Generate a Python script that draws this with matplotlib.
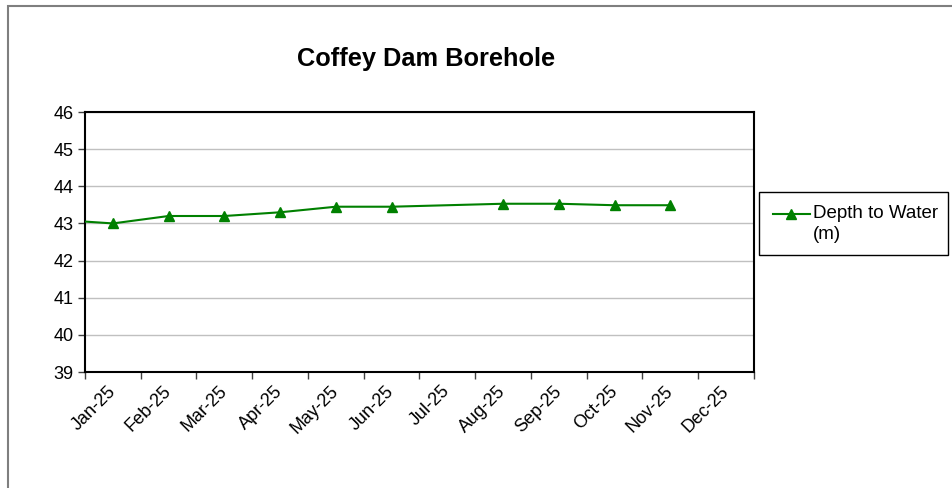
import numpy as np
import matplotlib
matplotlib.use('Agg')
import matplotlib.pyplot as plt
from matplotlib.patches import Rectangle
from matplotlib.lines import Line2D

plt.rcParams['font.family'] = ['Liberation Sans', 'DejaVu Sans']

# monthly readings, depth to water in metres (None = no reading)
months = ['Jan-25', 'Feb-25', 'Mar-25', 'Apr-25', 'May-25', 'Jun-25',
          'Jul-25', 'Aug-25', 'Sep-25', 'Oct-25', 'Nov-25', 'Dec-25']
depth = [43.0, 43.2, 43.2, 43.3, 43.45, 43.45,
         None, 43.53, 43.53, 43.49, 43.49, None]
prev_depth = 43.1  # Dec-24 reading, runs in from off the left edge
y_ticks = [39, 40, 41, 42, 43, 44, 45, 46]
series_name = 'Depth to Water\n(m)'

green = '#008000'
W, H = 953, 488

fig = plt.figure(figsize=(W / 100, H / 100), dpi=100)
# chart area outline (only top and left edge fall inside the image)
fig.patches.append(Rectangle((8 / W, -0.1), 1.2, 1.1 - 6 / H, transform=fig.transFigure,
                             fill=False, edgecolor='#7f7f7f', linewidth=1.5))
ax = fig.add_axes([85 / W, 1 - 372 / H, (754 - 85) / W, (372 - 112) / H])

centres = np.arange(len(months)) + 0.5
xs = [-0.5] + [c for c, d in zip(centres, depth) if d is not None]
ys = [prev_depth] + [d for d in depth if d is not None]
ax.plot(xs, ys, color=green, linewidth=1.5, zorder=3)
ax.plot(xs[1:], ys[1:], color=green, linestyle='none', marker='^', markersize=6.5, zorder=4)

ax.set_xlim(0, len(months))
ax.set_ylim(39, 46)
ax.set_yticks(y_ticks)
ax.set_xticks(np.arange(len(months) + 1))
ax.set_xticklabels([])
ax.set_xticks(centres, minor=True)
ax.set_xticklabels(months, minor=True, rotation=45, ha='right', va='center',
                   rotation_mode='anchor', fontsize=13)
ax.tick_params(axis='x', which='minor', length=0, pad=12)
ax.tick_params(axis='both', which='major', direction='out', length=5, width=1,
               labelsize=13, color='#404040')
ax.tick_params(axis='y', pad=3)

ax.grid(axis='y', color='#c0c0c0', linewidth=1)
ax.set_axisbelow(True)
for s in ax.spines.values():
    s.set_linewidth(1.5)
    s.set_color('black')

fig.text(426 / W, 1 - 59 / H, 'Coffey Dam Borehole', ha='center', va='center',
         fontsize=18.3, fontweight='bold')

# legend box drawn by hand so the marker sits on the first text line
fig.patches.append(Rectangle((759 / W, 1 - 255 / H), (948 - 759) / W, (255 - 192) / H,
                             transform=fig.transFigure, fill=False,
                             edgecolor='black', linewidth=1))
fig.lines.append(Line2D([773 / W, 810 / W], [1 - 214 / H] * 2, transform=fig.transFigure,
                        color=green, linewidth=1.5))
fig.lines.append(Line2D([791.5 / W], [1 - 214 / H], transform=fig.transFigure,
                        color=green, marker='^', markersize=6.5))
fig.text(813 / W, 1 - 205 / H, series_name, ha='left', va='top', fontsize=13.5,
         linespacing=1.32)

fig.savefig('out.png', dpi=100)
